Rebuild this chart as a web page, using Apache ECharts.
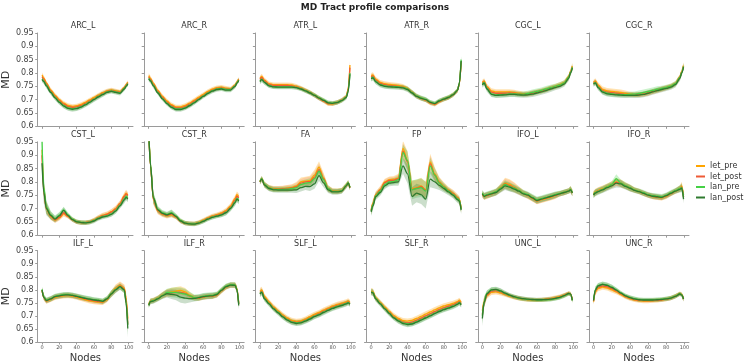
<!DOCTYPE html>
<html><head><meta charset="utf-8">
<script src="https://cdn.jsdelivr.net/npm/echarts@6/dist/echarts.min.js"></script>
<style>html,body{margin:0;padding:0;background:#fff}#c{width:750px;height:364px}</style>
</head><body><div id="c"></div>
<script>
const tracts = ['ARC_L','ARC_R','ATR_L','ATR_R','CGC_L','CGC_R','CST_L','CST_R','FA','FP','IFO_L','IFO_R','ILF_L','ILF_R','SLF_L','SLF_R','UNC_L','UNC_R'];
const nodes = [0,2,5,10,15,20,25,30,35,40,45,50,55,60,65,70,75,80,85,90,95,97,99];
const xTicks = [0,20,40,60,80,100];
const yTicks = [0.6,0.65,0.7,0.75,0.8,0.85,0.9,0.95];
const groups = ['let_pre','let_post','lan_pre','lan_post'];

const letPre = [
 [0.792,0.782,0.763,0.737,0.717,0.700,0.687,0.678,0.675,0.677,0.682,0.690,0.699,0.708,0.717,0.726,0.733,0.737,0.733,0.730,0.746,0.756,0.765], // ARC_L
 [0.790,0.780,0.762,0.735,0.713,0.695,0.681,0.673,0.673,0.678,0.687,0.698,0.709,0.720,0.731,0.739,0.745,0.747,0.743,0.741,0.755,0.767,0.777], // ARC_R
 [0.780,0.787,0.773,0.760,0.756,0.756,0.756,0.756,0.755,0.751,0.744,0.736,0.727,0.717,0.706,0.695,0.684,0.684,0.690,0.698,0.712,0.740,0.830], // ATR_L
 [0.790,0.793,0.777,0.765,0.760,0.757,0.755,0.753,0.750,0.742,0.728,0.713,0.705,0.698,0.687,0.682,0.693,0.701,0.708,0.718,0.735,0.758,0.840], // ATR_R
 [0.765,0.770,0.750,0.733,0.729,0.729,0.729,0.729,0.727,0.724,0.722,0.722,0.725,0.729,0.733,0.738,0.744,0.750,0.756,0.764,0.786,0.806,0.826], // CGC_L
 [0.765,0.770,0.755,0.738,0.733,0.731,0.729,0.727,0.724,0.721,0.719,0.719,0.721,0.725,0.730,0.735,0.740,0.745,0.751,0.760,0.785,0.806,0.828], // CGC_R
 [0.920,0.770,0.700,0.670,0.656,0.665,0.680,0.670,0.658,0.650,0.647,0.647,0.650,0.657,0.667,0.675,0.680,0.688,0.700,0.720,0.748,0.758,0.750], // CST_L
 [0.990,0.860,0.735,0.690,0.678,0.672,0.676,0.668,0.653,0.645,0.643,0.643,0.648,0.656,0.665,0.672,0.677,0.683,0.692,0.710,0.738,0.752,0.745], // CST_R
 [0.800,0.812,0.790,0.778,0.774,0.774,0.775,0.776,0.779,0.785,0.800,0.803,0.805,0.825,0.855,0.815,0.775,0.766,0.765,0.768,0.787,0.796,0.778], // FA
 [0.695,0.720,0.752,0.772,0.800,0.808,0.810,0.815,0.925,0.880,0.775,0.778,0.785,0.770,0.875,0.830,0.800,0.783,0.770,0.758,0.742,0.735,0.700], // FP
 [0.752,0.745,0.748,0.755,0.762,0.778,0.795,0.790,0.780,0.768,0.757,0.748,0.738,0.728,0.733,0.737,0.742,0.748,0.755,0.760,0.766,0.772,0.758], // IFO_L
 [0.755,0.762,0.768,0.774,0.782,0.790,0.800,0.795,0.786,0.778,0.770,0.764,0.757,0.750,0.745,0.742,0.740,0.746,0.756,0.765,0.775,0.785,0.750], // IFO_R
 [0.798,0.770,0.757,0.763,0.771,0.775,0.777,0.778,0.776,0.772,0.767,0.762,0.758,0.755,0.753,0.752,0.762,0.785,0.806,0.818,0.806,0.770,0.690], // ILF_L
 [0.745,0.758,0.760,0.768,0.780,0.788,0.792,0.795,0.798,0.792,0.780,0.770,0.768,0.772,0.775,0.776,0.780,0.796,0.810,0.818,0.818,0.805,0.750], // ILF_R
 [0.795,0.800,0.775,0.754,0.735,0.719,0.704,0.692,0.683,0.679,0.681,0.688,0.697,0.706,0.713,0.722,0.730,0.738,0.744,0.749,0.754,0.758,0.752], // SLF_L
 [0.795,0.793,0.770,0.752,0.734,0.717,0.701,0.690,0.682,0.680,0.683,0.690,0.698,0.707,0.715,0.723,0.731,0.738,0.743,0.748,0.755,0.760,0.752], // SLF_R
 [0.720,0.755,0.778,0.790,0.792,0.788,0.782,0.776,0.771,0.767,0.764,0.762,0.761,0.761,0.762,0.764,0.766,0.770,0.774,0.780,0.787,0.785,0.762], // UNC_L
 [0.755,0.792,0.805,0.810,0.807,0.800,0.792,0.782,0.773,0.766,0.761,0.758,0.757,0.757,0.758,0.759,0.761,0.764,0.768,0.776,0.786,0.782,0.765]  // UNC_R
];
const letPost = [
 [0.786,0.777,0.759,0.733,0.713,0.696,0.683,0.674,0.671,0.673,0.678,0.686,0.695,0.704,0.714,0.723,0.731,0.735,0.731,0.728,0.744,0.754,0.763],
 [0.785,0.776,0.758,0.731,0.709,0.691,0.677,0.669,0.669,0.674,0.683,0.694,0.705,0.716,0.727,0.736,0.742,0.744,0.740,0.739,0.753,0.765,0.775],
 [0.776,0.783,0.770,0.757,0.753,0.753,0.753,0.753,0.752,0.748,0.742,0.735,0.726,0.716,0.705,0.695,0.685,0.685,0.690,0.698,0.711,0.737,0.820],
 [0.785,0.789,0.773,0.761,0.756,0.753,0.752,0.750,0.747,0.740,0.727,0.713,0.705,0.699,0.688,0.683,0.694,0.702,0.708,0.718,0.735,0.760,0.842],
 [0.762,0.767,0.746,0.728,0.724,0.724,0.724,0.725,0.724,0.722,0.720,0.721,0.724,0.728,0.732,0.737,0.743,0.748,0.754,0.762,0.784,0.804,0.823],
 [0.762,0.767,0.751,0.733,0.728,0.726,0.724,0.722,0.720,0.719,0.718,0.719,0.721,0.725,0.730,0.735,0.740,0.744,0.750,0.759,0.784,0.804,0.826],
 [0.900,0.765,0.700,0.671,0.657,0.667,0.684,0.671,0.658,0.650,0.647,0.647,0.650,0.656,0.666,0.673,0.678,0.686,0.698,0.718,0.745,0.755,0.748],
 [0.985,0.860,0.737,0.692,0.680,0.674,0.679,0.669,0.653,0.645,0.643,0.642,0.647,0.654,0.663,0.670,0.675,0.680,0.689,0.706,0.732,0.746,0.740],
 [0.800,0.811,0.789,0.777,0.773,0.773,0.774,0.775,0.777,0.782,0.795,0.800,0.801,0.818,0.846,0.812,0.774,0.765,0.764,0.767,0.786,0.796,0.778],
 [0.692,0.717,0.750,0.770,0.797,0.805,0.806,0.812,0.915,0.875,0.772,0.776,0.782,0.768,0.868,0.826,0.797,0.781,0.768,0.756,0.740,0.733,0.699],
 [0.754,0.746,0.749,0.755,0.761,0.776,0.792,0.786,0.778,0.767,0.756,0.749,0.739,0.729,0.734,0.739,0.744,0.749,0.755,0.760,0.766,0.771,0.758],
 [0.753,0.760,0.766,0.772,0.780,0.788,0.798,0.794,0.785,0.777,0.769,0.764,0.757,0.750,0.746,0.743,0.741,0.747,0.756,0.765,0.774,0.781,0.743],
 [0.799,0.771,0.758,0.764,0.773,0.776,0.779,0.780,0.778,0.774,0.769,0.765,0.761,0.758,0.756,0.754,0.764,0.785,0.803,0.815,0.803,0.760,0.670],
 [0.743,0.757,0.759,0.767,0.779,0.787,0.789,0.790,0.790,0.786,0.776,0.769,0.769,0.773,0.776,0.777,0.781,0.797,0.811,0.818,0.818,0.803,0.745],
 [0.790,0.795,0.770,0.750,0.731,0.715,0.700,0.688,0.679,0.675,0.677,0.684,0.692,0.701,0.709,0.718,0.726,0.734,0.740,0.745,0.750,0.754,0.748],
 [0.792,0.790,0.767,0.749,0.730,0.713,0.696,0.685,0.676,0.673,0.676,0.683,0.691,0.700,0.708,0.716,0.724,0.731,0.737,0.742,0.750,0.755,0.747],
 [0.705,0.753,0.781,0.795,0.797,0.792,0.784,0.778,0.772,0.768,0.765,0.763,0.762,0.761,0.762,0.763,0.765,0.768,0.772,0.779,0.786,0.784,0.761],
 [0.757,0.796,0.810,0.815,0.812,0.805,0.796,0.785,0.775,0.768,0.763,0.760,0.759,0.759,0.759,0.760,0.762,0.764,0.768,0.775,0.785,0.781,0.765]
];
const lanPre = [
 [0.778,0.770,0.754,0.729,0.709,0.692,0.678,0.669,0.666,0.668,0.674,0.682,0.692,0.702,0.712,0.721,0.729,0.733,0.729,0.726,0.742,0.752,0.760],
 [0.780,0.772,0.754,0.727,0.705,0.687,0.673,0.665,0.665,0.670,0.679,0.690,0.702,0.714,0.725,0.734,0.740,0.742,0.738,0.738,0.752,0.764,0.774],
 [0.770,0.777,0.766,0.753,0.749,0.748,0.748,0.748,0.748,0.746,0.741,0.734,0.726,0.717,0.707,0.698,0.689,0.687,0.690,0.697,0.710,0.733,0.800],
 [0.780,0.784,0.769,0.757,0.752,0.750,0.749,0.748,0.746,0.740,0.727,0.714,0.707,0.701,0.691,0.686,0.696,0.703,0.709,0.719,0.736,0.762,0.850],
 [0.758,0.765,0.743,0.722,0.718,0.719,0.720,0.722,0.722,0.721,0.721,0.723,0.727,0.731,0.735,0.740,0.745,0.750,0.755,0.763,0.784,0.803,0.822],
 [0.760,0.765,0.748,0.730,0.724,0.722,0.720,0.719,0.719,0.720,0.721,0.723,0.727,0.731,0.735,0.739,0.742,0.746,0.751,0.760,0.783,0.803,0.825],
 [0.950,0.780,0.705,0.676,0.662,0.675,0.695,0.676,0.660,0.651,0.648,0.647,0.649,0.655,0.664,0.670,0.673,0.680,0.693,0.713,0.736,0.746,0.740],
 [0.990,0.865,0.742,0.697,0.684,0.678,0.684,0.672,0.655,0.646,0.643,0.642,0.646,0.653,0.661,0.668,0.672,0.677,0.686,0.702,0.725,0.738,0.731],
 [0.802,0.812,0.790,0.777,0.772,0.772,0.772,0.773,0.775,0.778,0.790,0.795,0.797,0.812,0.840,0.808,0.774,0.764,0.764,0.767,0.787,0.797,0.780],
 [0.690,0.715,0.748,0.765,0.790,0.800,0.802,0.808,0.910,0.880,0.770,0.775,0.778,0.765,0.860,0.825,0.795,0.780,0.766,0.753,0.737,0.732,0.698],
 [0.758,0.748,0.752,0.757,0.763,0.776,0.790,0.782,0.776,0.768,0.758,0.752,0.742,0.733,0.737,0.742,0.746,0.752,0.757,0.761,0.766,0.772,0.760],
 [0.752,0.760,0.765,0.772,0.781,0.790,0.812,0.795,0.786,0.778,0.770,0.765,0.759,0.752,0.748,0.746,0.744,0.750,0.759,0.767,0.775,0.779,0.745],
 [0.802,0.773,0.761,0.766,0.775,0.779,0.782,0.782,0.780,0.776,0.772,0.768,0.765,0.762,0.760,0.757,0.766,0.786,0.802,0.812,0.798,0.755,0.665],
 [0.742,0.757,0.759,0.767,0.779,0.790,0.790,0.790,0.787,0.784,0.778,0.770,0.771,0.776,0.778,0.779,0.784,0.800,0.814,0.820,0.819,0.803,0.745],
 [0.786,0.792,0.767,0.748,0.729,0.714,0.698,0.686,0.677,0.673,0.675,0.682,0.690,0.699,0.706,0.715,0.723,0.731,0.737,0.742,0.748,0.752,0.747],
 [0.792,0.790,0.767,0.748,0.729,0.711,0.694,0.682,0.673,0.669,0.671,0.678,0.686,0.694,0.702,0.711,0.719,0.726,0.732,0.738,0.746,0.752,0.744],
 [0.700,0.755,0.786,0.800,0.801,0.795,0.786,0.779,0.773,0.768,0.765,0.763,0.762,0.761,0.761,0.762,0.763,0.766,0.770,0.777,0.785,0.783,0.760],
 [0.760,0.801,0.816,0.822,0.818,0.810,0.800,0.788,0.778,0.771,0.766,0.763,0.762,0.762,0.762,0.763,0.764,0.766,0.769,0.776,0.785,0.781,0.766]
];
const lanPost = [
 [0.775,0.768,0.752,0.727,0.707,0.690,0.676,0.667,0.664,0.666,0.672,0.680,0.690,0.700,0.710,0.719,0.727,0.731,0.727,0.724,0.740,0.750,0.758],
 [0.778,0.770,0.752,0.725,0.703,0.685,0.671,0.663,0.663,0.668,0.677,0.688,0.700,0.712,0.723,0.732,0.738,0.740,0.736,0.736,0.750,0.762,0.772],
 [0.768,0.775,0.765,0.752,0.748,0.747,0.747,0.747,0.747,0.745,0.740,0.733,0.725,0.716,0.706,0.697,0.688,0.686,0.689,0.696,0.708,0.730,0.795],
 [0.778,0.782,0.767,0.755,0.750,0.748,0.747,0.746,0.744,0.738,0.725,0.712,0.705,0.700,0.690,0.685,0.695,0.702,0.708,0.718,0.735,0.760,0.845],
 [0.755,0.762,0.740,0.720,0.716,0.717,0.718,0.720,0.720,0.718,0.717,0.718,0.721,0.725,0.729,0.734,0.740,0.745,0.750,0.758,0.780,0.800,0.818],
 [0.758,0.763,0.745,0.728,0.722,0.720,0.718,0.717,0.716,0.716,0.716,0.717,0.720,0.724,0.729,0.734,0.738,0.742,0.747,0.756,0.780,0.800,0.822],
 [0.870,0.760,0.700,0.674,0.660,0.672,0.693,0.673,0.658,0.650,0.647,0.646,0.648,0.653,0.662,0.668,0.671,0.678,0.690,0.710,0.732,0.742,0.735],
 [0.980,0.860,0.740,0.695,0.682,0.676,0.682,0.670,0.653,0.645,0.642,0.641,0.645,0.652,0.660,0.667,0.671,0.676,0.684,0.700,0.722,0.735,0.728],
 [0.800,0.810,0.788,0.775,0.770,0.769,0.769,0.769,0.769,0.770,0.778,0.783,0.782,0.792,0.823,0.796,0.770,0.762,0.762,0.765,0.785,0.795,0.778],
 [0.687,0.710,0.744,0.760,0.785,0.795,0.797,0.800,0.860,0.830,0.745,0.758,0.752,0.735,0.810,0.800,0.787,0.775,0.762,0.750,0.733,0.728,0.694],
 [0.755,0.745,0.750,0.755,0.760,0.773,0.785,0.780,0.773,0.765,0.755,0.750,0.740,0.730,0.735,0.740,0.745,0.750,0.755,0.760,0.765,0.770,0.758],
 [0.750,0.758,0.763,0.770,0.778,0.785,0.795,0.792,0.783,0.776,0.768,0.763,0.757,0.750,0.746,0.744,0.742,0.748,0.757,0.765,0.772,0.776,0.735],
 [0.800,0.771,0.759,0.765,0.774,0.777,0.780,0.781,0.779,0.775,0.771,0.767,0.764,0.761,0.759,0.756,0.765,0.784,0.800,0.812,0.800,0.750,0.652],
 [0.740,0.755,0.757,0.765,0.777,0.785,0.783,0.780,0.772,0.768,0.766,0.767,0.770,0.774,0.776,0.777,0.782,0.798,0.812,0.818,0.817,0.800,0.740],
 [0.784,0.790,0.765,0.746,0.727,0.712,0.696,0.684,0.675,0.671,0.673,0.680,0.688,0.697,0.704,0.713,0.721,0.729,0.735,0.740,0.746,0.750,0.745],
 [0.790,0.788,0.765,0.746,0.727,0.709,0.692,0.680,0.671,0.667,0.669,0.676,0.684,0.692,0.700,0.709,0.717,0.724,0.730,0.736,0.744,0.750,0.742],
 [0.690,0.752,0.784,0.800,0.802,0.796,0.787,0.780,0.774,0.769,0.766,0.764,0.763,0.762,0.762,0.763,0.764,0.767,0.771,0.778,0.786,0.784,0.760],
 [0.759,0.800,0.815,0.821,0.817,0.809,0.799,0.787,0.777,0.770,0.765,0.762,0.761,0.761,0.761,0.762,0.763,0.765,0.768,0.775,0.784,0.780,0.765]
];
// band half-widths (spread around the means), read from the shaded areas
const sdLet = [
 [0.010,0.009,0.008,0.008,0.008,0.008,0.008,0.008,0.008,0.008,0.008,0.008,0.008,0.008,0.008,0.008,0.008,0.008,0.008,0.007,0.007,0.007,0.008],
 [0.010,0.009,0.008,0.008,0.008,0.008,0.008,0.008,0.008,0.008,0.008,0.008,0.008,0.008,0.008,0.008,0.008,0.008,0.008,0.007,0.007,0.007,0.008],
 [0.010,0.010,0.009,0.008,0.008,0.008,0.008,0.008,0.008,0.008,0.008,0.008,0.008,0.008,0.008,0.008,0.008,0.008,0.008,0.008,0.008,0.010,0.015],
 [0.010,0.010,0.009,0.009,0.009,0.009,0.009,0.009,0.009,0.008,0.008,0.008,0.008,0.008,0.008,0.008,0.008,0.008,0.008,0.008,0.008,0.010,0.012],
 [0.010,0.010,0.010,0.010,0.010,0.010,0.010,0.010,0.010,0.009,0.009,0.009,0.009,0.009,0.009,0.009,0.009,0.009,0.009,0.009,0.010,0.010,0.012],
 [0.010,0.010,0.010,0.011,0.011,0.011,0.011,0.011,0.010,0.009,0.009,0.009,0.009,0.009,0.009,0.009,0.009,0.009,0.009,0.009,0.010,0.010,0.012],
 [0.040,0.030,0.020,0.012,0.010,0.010,0.010,0.008,0.008,0.008,0.008,0.008,0.008,0.008,0.009,0.009,0.009,0.010,0.010,0.010,0.012,0.012,0.012],
 [0.040,0.030,0.020,0.012,0.010,0.010,0.010,0.008,0.008,0.008,0.008,0.008,0.008,0.008,0.008,0.008,0.008,0.009,0.010,0.010,0.012,0.012,0.012],
 [0.010,0.010,0.010,0.010,0.010,0.010,0.010,0.012,0.012,0.014,0.016,0.016,0.018,0.020,0.022,0.018,0.012,0.010,0.010,0.010,0.010,0.010,0.010],
 [0.015,0.015,0.012,0.012,0.012,0.012,0.012,0.015,0.030,0.035,0.030,0.030,0.030,0.030,0.030,0.025,0.018,0.015,0.012,0.012,0.012,0.012,0.015],
 [0.012,0.012,0.012,0.012,0.012,0.015,0.020,0.020,0.018,0.015,0.012,0.012,0.012,0.012,0.012,0.012,0.012,0.012,0.010,0.010,0.010,0.012,0.012],
 [0.012,0.012,0.012,0.012,0.012,0.012,0.014,0.014,0.012,0.012,0.010,0.010,0.010,0.010,0.010,0.010,0.010,0.010,0.010,0.010,0.012,0.015,0.015],
 [0.010,0.010,0.010,0.010,0.010,0.010,0.010,0.010,0.010,0.010,0.010,0.010,0.010,0.010,0.010,0.010,0.010,0.012,0.014,0.014,0.014,0.020,0.030],
 [0.010,0.010,0.010,0.010,0.012,0.014,0.016,0.016,0.016,0.015,0.012,0.010,0.010,0.010,0.010,0.010,0.010,0.010,0.010,0.010,0.010,0.012,0.015],
 [0.012,0.012,0.010,0.010,0.010,0.010,0.010,0.010,0.010,0.010,0.010,0.010,0.010,0.010,0.010,0.010,0.010,0.010,0.010,0.010,0.010,0.010,0.010],
 [0.012,0.012,0.010,0.010,0.010,0.010,0.010,0.010,0.010,0.010,0.010,0.011,0.011,0.011,0.011,0.011,0.011,0.011,0.010,0.010,0.010,0.010,0.010],
 [0.025,0.018,0.012,0.010,0.010,0.010,0.009,0.008,0.008,0.008,0.008,0.008,0.008,0.008,0.008,0.008,0.008,0.008,0.008,0.008,0.008,0.008,0.010],
 [0.012,0.012,0.010,0.010,0.010,0.010,0.009,0.008,0.008,0.008,0.008,0.008,0.008,0.008,0.008,0.008,0.008,0.008,0.008,0.008,0.008,0.008,0.010]
];
const sdLan = [
 [0.010,0.009,0.009,0.009,0.009,0.009,0.009,0.009,0.009,0.009,0.009,0.009,0.009,0.009,0.009,0.009,0.008,0.008,0.008,0.008,0.008,0.008,0.008],
 [0.010,0.009,0.008,0.008,0.008,0.008,0.008,0.008,0.008,0.008,0.008,0.008,0.008,0.008,0.008,0.008,0.008,0.008,0.008,0.008,0.008,0.008,0.008],
 [0.010,0.010,0.009,0.008,0.008,0.008,0.008,0.008,0.008,0.008,0.008,0.008,0.008,0.008,0.008,0.008,0.008,0.008,0.008,0.008,0.008,0.010,0.015],
 [0.010,0.010,0.009,0.009,0.009,0.009,0.009,0.009,0.009,0.009,0.009,0.009,0.009,0.009,0.008,0.008,0.008,0.008,0.008,0.008,0.008,0.010,0.015],
 [0.010,0.010,0.010,0.010,0.010,0.010,0.010,0.010,0.010,0.010,0.010,0.010,0.011,0.011,0.011,0.011,0.011,0.010,0.010,0.010,0.010,0.010,0.012],
 [0.010,0.010,0.010,0.010,0.010,0.010,0.010,0.010,0.010,0.010,0.010,0.011,0.011,0.011,0.011,0.011,0.010,0.010,0.010,0.010,0.010,0.010,0.012],
 [0.050,0.040,0.025,0.015,0.012,0.012,0.012,0.009,0.008,0.008,0.008,0.008,0.008,0.008,0.008,0.008,0.008,0.009,0.010,0.010,0.012,0.012,0.012],
 [0.040,0.030,0.020,0.012,0.010,0.010,0.012,0.009,0.008,0.008,0.008,0.008,0.008,0.008,0.008,0.008,0.008,0.009,0.010,0.010,0.012,0.012,0.012],
 [0.010,0.010,0.010,0.010,0.010,0.010,0.010,0.010,0.010,0.012,0.014,0.014,0.016,0.018,0.020,0.016,0.012,0.010,0.010,0.010,0.010,0.010,0.010],
 [0.015,0.015,0.012,0.012,0.012,0.012,0.012,0.015,0.030,0.035,0.035,0.035,0.035,0.035,0.030,0.025,0.018,0.015,0.012,0.012,0.012,0.012,0.015],
 [0.012,0.012,0.012,0.012,0.012,0.014,0.016,0.016,0.014,0.013,0.012,0.012,0.012,0.012,0.012,0.012,0.012,0.012,0.010,0.010,0.010,0.012,0.012],
 [0.012,0.012,0.012,0.012,0.012,0.012,0.016,0.014,0.012,0.012,0.010,0.010,0.010,0.010,0.010,0.010,0.010,0.010,0.010,0.010,0.012,0.015,0.015],
 [0.010,0.010,0.010,0.010,0.010,0.010,0.010,0.010,0.010,0.010,0.010,0.010,0.010,0.010,0.010,0.010,0.010,0.012,0.012,0.012,0.012,0.020,0.035],
 [0.010,0.010,0.010,0.010,0.012,0.014,0.018,0.020,0.022,0.020,0.015,0.012,0.012,0.012,0.012,0.012,0.010,0.010,0.010,0.010,0.010,0.012,0.015],
 [0.012,0.012,0.010,0.010,0.010,0.010,0.010,0.010,0.010,0.010,0.010,0.010,0.010,0.010,0.010,0.010,0.010,0.010,0.010,0.010,0.010,0.010,0.010],
 [0.012,0.012,0.010,0.010,0.010,0.010,0.010,0.010,0.010,0.010,0.010,0.010,0.010,0.010,0.010,0.010,0.010,0.010,0.010,0.010,0.010,0.010,0.010],
 [0.030,0.020,0.012,0.010,0.010,0.010,0.009,0.008,0.008,0.008,0.008,0.008,0.008,0.008,0.008,0.008,0.008,0.008,0.008,0.008,0.008,0.008,0.010],
 [0.012,0.012,0.010,0.010,0.010,0.010,0.009,0.008,0.008,0.008,0.008,0.008,0.008,0.008,0.008,0.008,0.008,0.008,0.008,0.008,0.008,0.008,0.010]
];

const lineColors = ['#FFA500', '#EE5A36', '#45D145', '#2F7A2F'];
const bandColors = ['rgba(255,165,0,0.30)', 'rgba(238,90,54,0.18)', 'rgba(69,209,69,0.28)', 'rgba(47,122,47,0.25)'];
const FF = 'DejaVu Sans';

const means = [letPre, letPost, lanPre, lanPost];
const sds = [sdLet, sdLet, sdLan, sdLan];

const option = {
  animation: false,
  backgroundColor: '#fff',
  textStyle: { fontFamily: FF },
  title: [{ text: 'MD Tract profile comparisons', left: 'center', top: 3, padding: 0,
            textStyle: { fontSize: 9, fontWeight: 'bold', color: '#222', fontFamily: FF } }],
  legend: { data: groups, orient: 'vertical', left: 696, top: 162, padding: 0, itemGap: 2.5,
            itemWidth: 9, itemHeight: 2, icon: 'rect',
            textStyle: { fontSize: 8, color: '#333', fontFamily: FF } },
  grid: [], xAxis: [], yAxis: [], series: []
};

tracts.forEach((name, i) => {
  const r = Math.floor(i / 6), c = i % 6;
  const left = 33 + c * 111.2, top = 33 + r * 108.85;
  option.grid.push({ left: left, top: top, width: 100, height: 93.3 });
  option.title.push({ text: name, left: left + 50, top: top - 11, textAlign: 'center', padding: 0,
    textStyle: { fontSize: 8, fontWeight: 'normal', color: '#333', fontFamily: FF } });
  option.xAxis.push({
    type: 'value', gridIndex: i, min: -5, max: 105,
    splitLine: { show: false },
    axisLine: { onZero: false, lineStyle: { color: '#9a9a9a', width: 1 } },
    axisTick: { show: true, customValues: xTicks, length: 2.5, lineStyle: { color: '#9a9a9a' } },
    axisLabel: { show: r === 2, customValues: xTicks, fontSize: 5, color: '#555', margin: 3, fontFamily: FF },
    name: r === 2 ? 'Nodes' : '', nameLocation: 'middle', nameGap: 11,
    nameTextStyle: { fontSize: 10, color: '#333', fontFamily: FF }
  });
  option.yAxis.push({
    type: 'value', gridIndex: i, min: 0.6, max: 0.95, interval: 0.05,
    splitLine: { show: false },
    axisLine: { show: true, onZero: false, lineStyle: { color: '#9a9a9a', width: 1 } },
    axisTick: { show: true, customValues: yTicks, length: 2.5, lineStyle: { color: '#9a9a9a' } },
    axisLabel: { show: c === 0, customValues: yTicks, fontSize: 8, color: '#444', margin: 4, fontFamily: FF },
    name: c === 0 ? 'MD' : '', nameLocation: 'middle', nameGap: 17, nameRotate: 90,
    nameTextStyle: { fontSize: 11, color: '#333', fontFamily: FF }
  });
  groups.forEach((g, gi) => {
    const m = means[gi][i], s = sds[gi][i];
    option.series.push({
      type: 'custom', name: g + ' band', xAxisIndex: i, yAxisIndex: i, silent: true, z: 1,
      data: [[nodes[0], m[0]]],
      renderItem: function (params, api) {
        const pts = [];
        for (let k = 0; k < nodes.length; k++) pts.push(api.coord([nodes[k], m[k] + s[k]]));
        for (let k = nodes.length - 1; k >= 0; k--) pts.push(api.coord([nodes[k], m[k] - s[k]]));
        const cs = params.coordSys;
        return { type: 'group',
          clipPath: { type: 'rect', shape: { x: cs.x, y: cs.y, width: cs.width, height: cs.height } },
          children: [{ type: 'polygon', shape: { points: pts }, style: { fill: bandColors[gi] } }] };
      }
    });
  });
  groups.forEach((g, gi) => {
    const m = means[gi][i];
    option.series.push({
      type: 'line', name: g, xAxisIndex: i, yAxisIndex: i, silent: true, z: 2 + gi,
      data: nodes.map((n, k) => [n, m[k]]),
      symbol: 'none', showSymbol: false, smooth: 0.3, smoothMonotone: 'x',
      color: lineColors[gi], itemStyle: { color: lineColors[gi] },
      lineStyle: { width: 1.3, color: lineColors[gi] }
    });
  });
});

const chart = echarts.init(document.getElementById('c'), null, { renderer: 'canvas' });
chart.setOption(option);
</script></body></html>
